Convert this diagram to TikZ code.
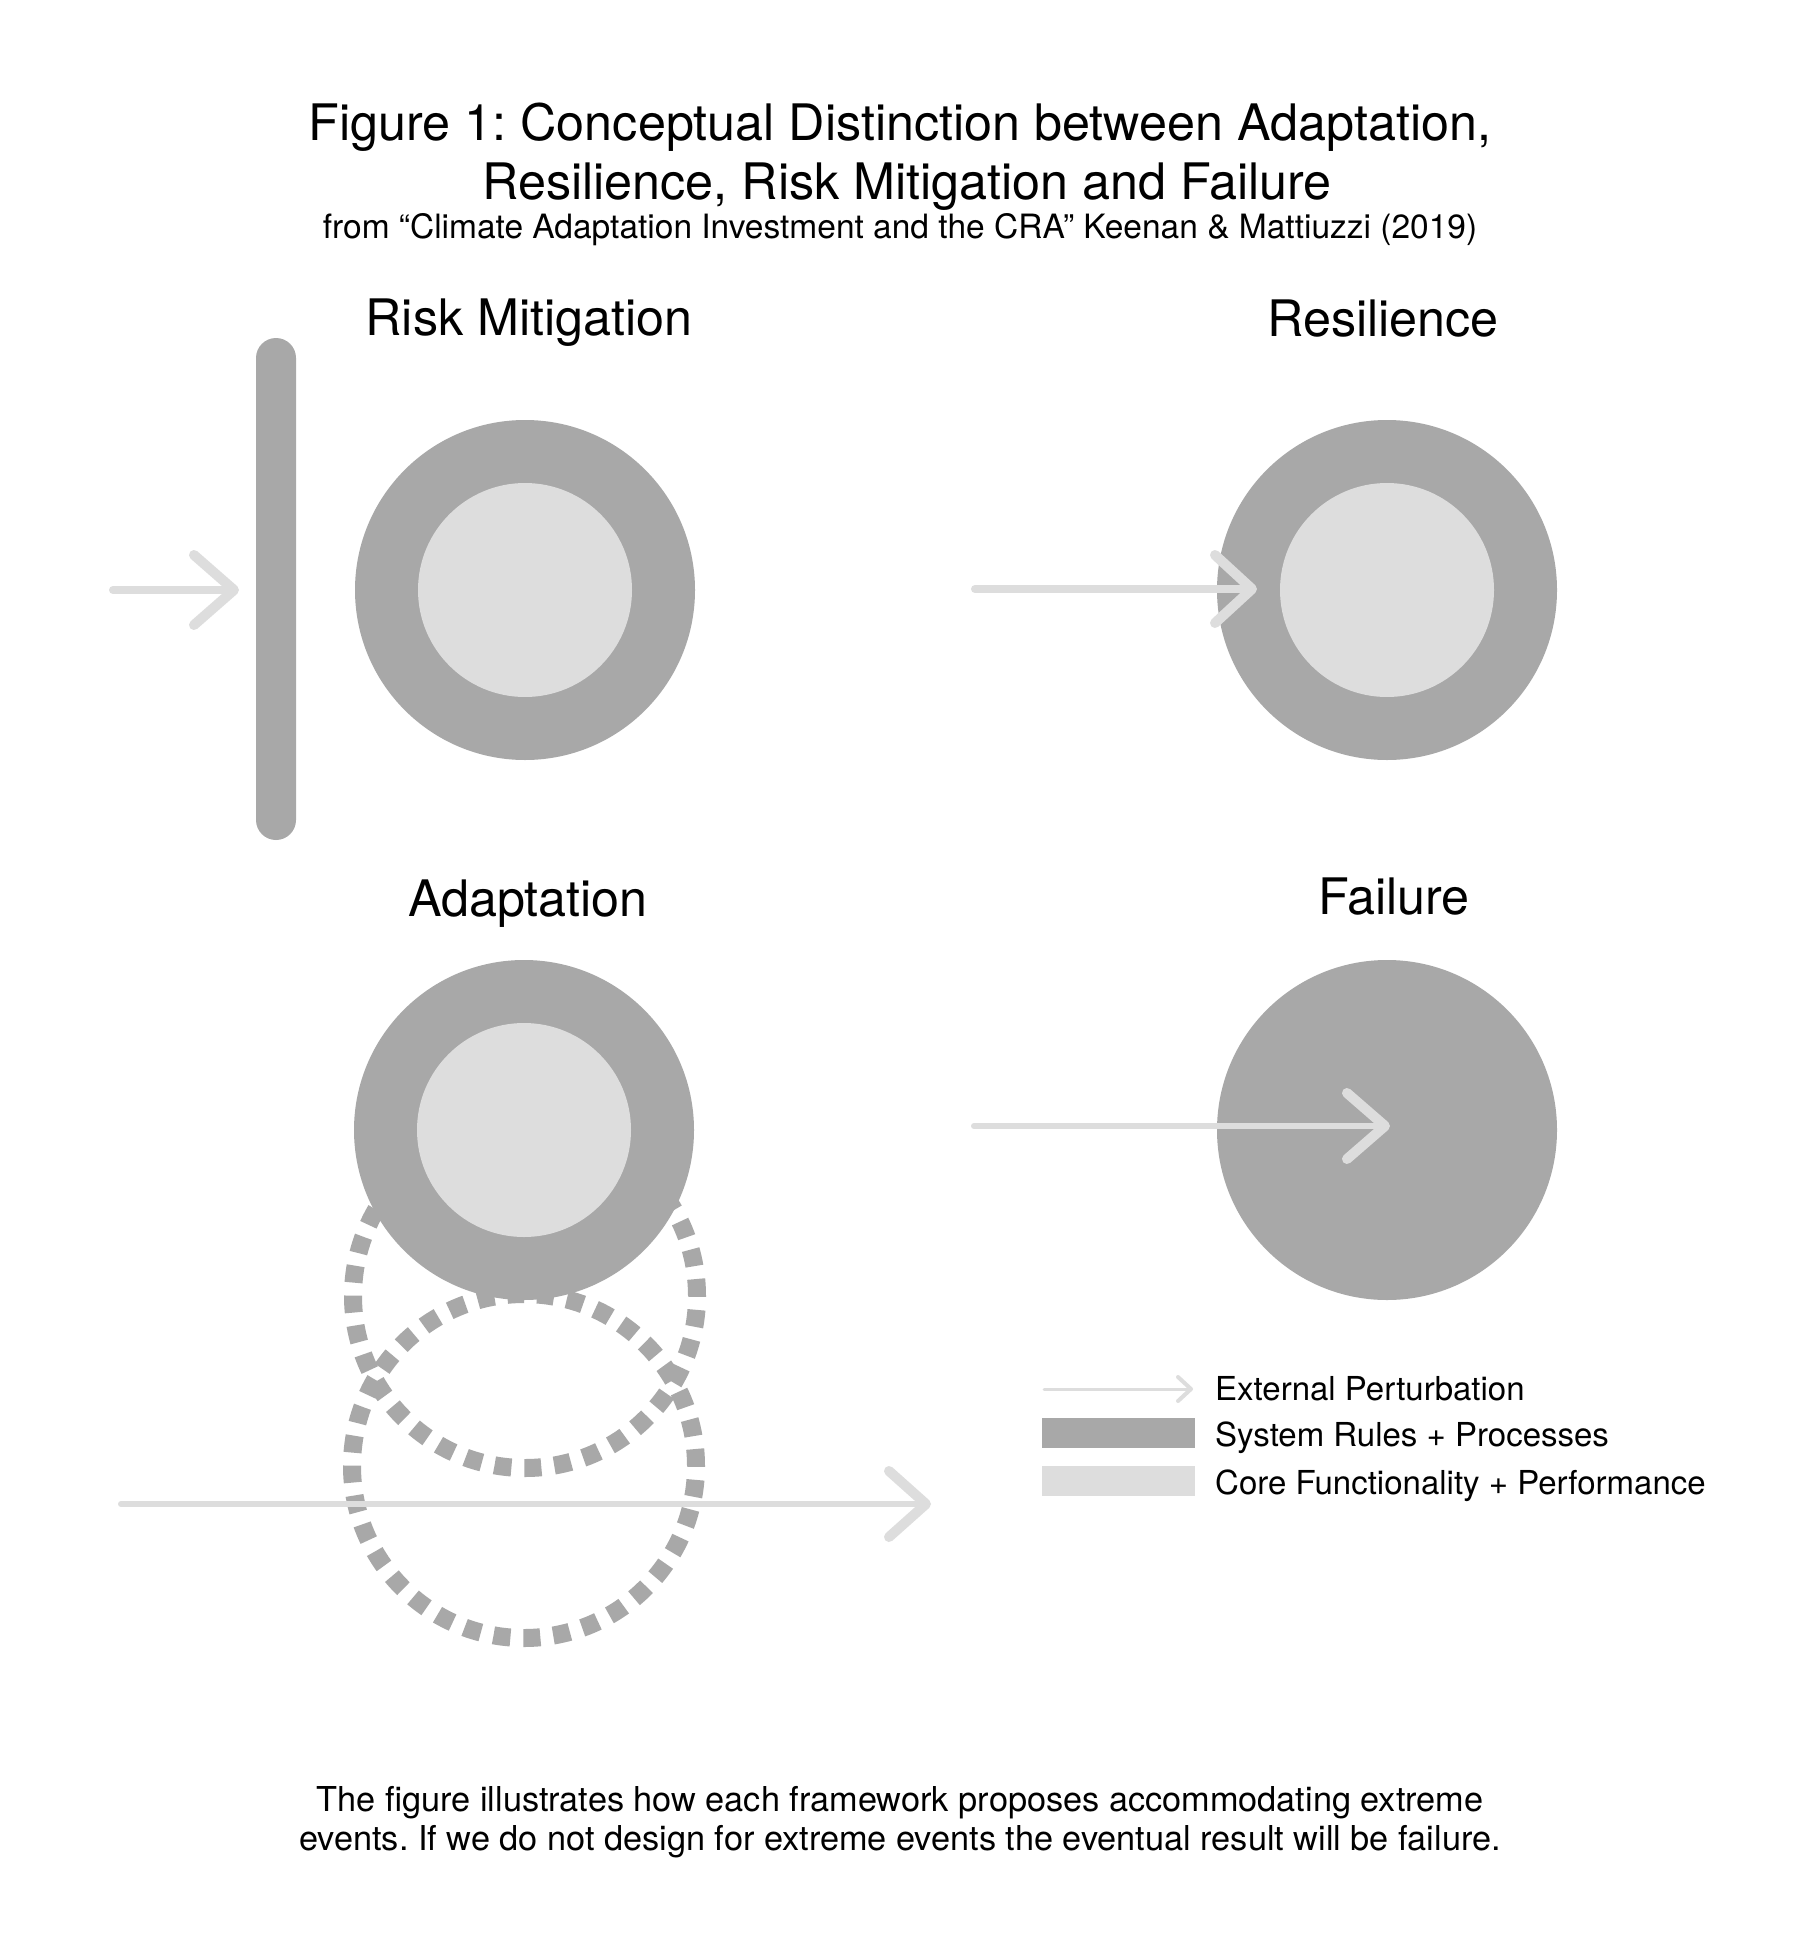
\documentclass[tikz,border=0pt]{standalone}
\usepackage{fontspec}
\setmainfont{TeX Gyre Heros}
\usetikzlibrary{calc}
\definecolor{sysgray}{HTML}{A8A8A8}
\definecolor{coregray}{HTML}{DDDDDD}
\definecolor{arrgray}{HTML}{DDDDDD}
\begin{document}
\frenchspacing
\begin{tikzpicture}[x=1pt,y=-1pt,
  outercirc/.style={circle,fill=sysgray,inner sep=0pt,minimum size=340pt},
  innercirc/.style={circle,fill=coregray,inner sep=0pt,minimum size=214pt},
  dotcirc/.style={circle,draw=sysgray,line width=18pt,dash pattern=on 17pt off 13pt,inner sep=0pt,minimum size=344pt},
  shaft/.style={draw=arrgray,line width=#1,line cap=round},
  shaft/.default=8pt,
  chev/.style={draw=arrgray,line width=#1,line cap=round,line join=round},
  chev/.default=10pt,
  bigtxt/.style={font=\fontsize{50.3}{60}\selectfont,inner sep=0pt,anchor=base},
  subtxt/.style={font=\fontsize{33.5}{40}\selectfont,inner sep=0pt,anchor=base},
  captxt/.style={font=\fontsize{34.3}{40}\selectfont,inner sep=0pt,anchor=base},
  legtxt/.style={font=\fontsize{33}{40}\selectfont,inner sep=0pt,anchor=base west},
  legbox/.style={inner sep=0pt,minimum width=153pt,minimum height=30pt},
]
\useasboundingbox (0,0) rectangle (1800,1950);
\fill[white] (0,0) rectangle (1800,1950);

% titles
\node[bigtxt] (t1) at (900,141) {Figure 1: Conceptual Distinction between Adaptation,};
\node[bigtxt] (t2) at (907,200) {Resilience, Risk Mitigation and Failure};
\node[subtxt] (t3) at (900,239) {from “Climate Adaptation Investment and the CRA” Keenan \& Mattiuzzi (2019)};

% section headings
\node[bigtxt] (hRM) at (529,335) {Risk Mitigation};
\node[bigtxt] (hRes) at (1383,337) {Resilience};
\node[bigtxt] (hAd) at (528,916) {Adaptation};
\node[bigtxt] (hFail) at (1394,914) {Failure};

% Risk mitigation
\node[fill=sysgray,inner sep=0pt,minimum width=40pt,minimum height=502pt,rounded corners=20pt] (bar) at (276,589) {};
\node[outercirc] (rmO) at (525,590) {};
\node[innercirc] (rmI) at (rmO) {};
\coordinate (rmA) at (113,590);
\coordinate (rmB) at (234,590);
\draw[shaft] (rmA) -- (rmB);
\draw[chev] ($(rmB)+(-40,-35)$) -- (rmB) -- ($(rmB)+(-40,35)$);

% Resilience
\node[outercirc] (resO) at (1387,590) {};
\node[innercirc] (resI) at (resO) {};
\coordinate (resA) at (975,589);
\coordinate (resB) at (1252,589);
\draw[shaft] (resA) -- (resB);
\draw[chev] ($(resB)+(-37,-34)$) -- (resB) -- ($(resB)+(-37,34)$);

% Adaptation
\node[dotcirc] (adD2) at (524,1466) {};
\node[dotcirc] (adD1) at (525,1296) {};
\node[outercirc] (adO) at (524,1130) {};
\node[innercirc] (adI) at (adO) {};
\coordinate (adA) at (121,1504);
\coordinate (adB) at (926,1504);
\draw[shaft=6pt] (adA) -- (adB);
\draw[chev] ($(adB)+(-37,-33)$) -- (adB) -- ($(adB)+(-37,33)$);

% Failure
\node[outercirc] (faO) at (1387,1130) {};
\coordinate (faA) at (974,1126);
\coordinate (faB) at (1385,1126);
\draw[shaft=6pt] (faA) -- (faB);
\draw[chev] ($(faB)+(-38,-33)$) -- (faB) -- ($(faB)+(-38,33)$);

% Legend
\coordinate (lgA) at (1044,1389);
\coordinate (lgB) at (1191,1389);
\draw[shaft=3pt] (lgA) -- (lgB);
\draw[chev=4pt] ($(lgB)+(-13,-12)$) -- (lgB) -- ($(lgB)+(-13,12)$);
\node[legbox,fill=sysgray] (lgSys) at (1118.5,1433) {};
\node[legbox,fill=coregray] (lgCore) at (1118.5,1481) {};
\node[legtxt] (lt1) at (1215,1400) {External Perturbation};
\node[legtxt] (lt2) at (1215,1446) {System Rules + Processes};
\node[legtxt] (lt3) at (1215,1494) {Core Functionality + Performance};

% caption
\node[captxt] (cap1) at (900,1811) {The figure illustrates how each framework proposes accommodating extreme};
\node[captxt] (cap2) at (900,1850) {events. If we do not design for extreme events the eventual result will be failure.};
\end{tikzpicture}
\end{document}
